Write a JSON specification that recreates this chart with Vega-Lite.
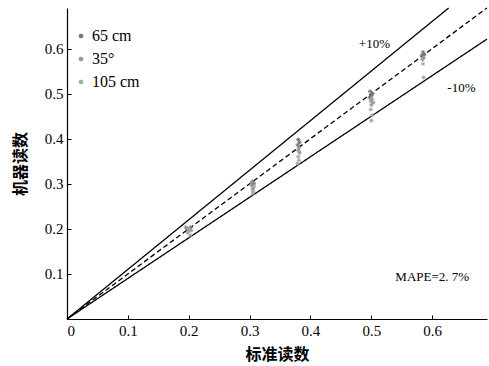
{
  "$schema": "https://vega.github.io/schema/vega-lite/v6.json",
  "width": 420,
  "height": 311,
  "autosize": {"type": "none"},
  "padding": {"left": 67, "top": 8, "right": 2, "bottom": 47},
  "background": "white",
  "config": {
    "view": {"stroke": null},
    "font": "Liberation Serif",
    "axis": {"grid": false, "domainColor": "black", "tickColor": "black", "labelColor": "black", "titleColor": "black", "labelFont": "Liberation Serif", "labelFontSize": 15, "titleFont": "Noto Sans CJK SC", "titleFontSize": 16, "titleFontWeight": "bold", "tickSize": -4, "labelPadding": 8, "domainWidth": 1.2}
  },
  "datasets": {
    "pts": [
      {"series": "65 cm", "std": 0.197, "machine": 0.201},
      {"series": "65 cm", "std": 0.200, "machine": 0.198},
      {"series": "65 cm", "std": 0.203, "machine": 0.203},
      {"series": "65 cm", "std": 0.199, "machine": 0.195},
      {"series": "35°", "std": 0.195, "machine": 0.204},
      {"series": "35°", "std": 0.201, "machine": 0.200},
      {"series": "35°", "std": 0.204, "machine": 0.197},
      {"series": "105 cm", "std": 0.198, "machine": 0.192},
      {"series": "105 cm", "std": 0.202, "machine": 0.186},
      {"series": "105 cm", "std": 0.200, "machine": 0.199},
      {"series": "65 cm", "std": 0.305, "machine": 0.305},
      {"series": "65 cm", "std": 0.307, "machine": 0.300},
      {"series": "65 cm", "std": 0.304, "machine": 0.297},
      {"series": "35°", "std": 0.306, "machine": 0.292},
      {"series": "35°", "std": 0.305, "machine": 0.288},
      {"series": "35°", "std": 0.303, "machine": 0.302},
      {"series": "105 cm", "std": 0.306, "machine": 0.283},
      {"series": "105 cm", "std": 0.305, "machine": 0.279},
      {"series": "105 cm", "std": 0.307, "machine": 0.295},
      {"series": "65 cm", "std": 0.380, "machine": 0.398},
      {"series": "65 cm", "std": 0.382, "machine": 0.392},
      {"series": "65 cm", "std": 0.379, "machine": 0.386},
      {"series": "35°", "std": 0.381, "machine": 0.380},
      {"series": "35°", "std": 0.380, "machine": 0.374},
      {"series": "35°", "std": 0.382, "machine": 0.369},
      {"series": "105 cm", "std": 0.380, "machine": 0.360},
      {"series": "105 cm", "std": 0.381, "machine": 0.352},
      {"series": "105 cm", "std": 0.379, "machine": 0.345},
      {"series": "65 cm", "std": 0.498, "machine": 0.505},
      {"series": "65 cm", "std": 0.502, "machine": 0.500},
      {"series": "65 cm", "std": 0.500, "machine": 0.496},
      {"series": "65 cm", "std": 0.497, "machine": 0.492},
      {"series": "35°", "std": 0.501, "machine": 0.488},
      {"series": "35°", "std": 0.499, "machine": 0.484},
      {"series": "35°", "std": 0.503, "machine": 0.480},
      {"series": "35°", "std": 0.500, "machine": 0.475},
      {"series": "105 cm", "std": 0.499, "machine": 0.465},
      {"series": "105 cm", "std": 0.501, "machine": 0.452},
      {"series": "105 cm", "std": 0.500, "machine": 0.440},
      {"series": "65 cm", "std": 0.585, "machine": 0.592},
      {"series": "65 cm", "std": 0.587, "machine": 0.587},
      {"series": "65 cm", "std": 0.583, "machine": 0.585},
      {"series": "35°", "std": 0.586, "machine": 0.580},
      {"series": "35°", "std": 0.584, "machine": 0.576},
      {"series": "105 cm", "std": 0.585, "machine": 0.566},
      {"series": "105 cm", "std": 0.586, "machine": 0.536}
    ],
    "lines": [
      {"line": "plus", "std": 0, "machine": 0},
      {"line": "plus", "std": 0.627, "machine": 0.69},
      {"line": "equal", "std": 0, "machine": 0},
      {"line": "equal", "std": 0.69, "machine": 0.69},
      {"line": "minus", "std": 0, "machine": 0},
      {"line": "minus", "std": 0.69, "machine": 0.621}
    ],
    "labels": [
      {"text": "+10%", "std": 0.505, "machine": 0.611},
      {"text": "-10%", "std": 0.648, "machine": 0.513},
      {"text": "MAPE=2. 7%", "std": 0.60, "machine": 0.093}
    ]
  },
  "layer": [
    {
      "data": {"name": "lines"},
      "mark": {"type": "line", "color": "black", "strokeWidth": 1.3},
      "encoding": {
        "x": {"field": "std", "type": "quantitative", "scale": {"domain": [0, 0.69], "nice": false}, "axis": {"title": "标准读数", "values": [0, 0.1, 0.2, 0.3, 0.4, 0.5, 0.6], "format": "~g", "titlePadding": 8}},
        "y": {"field": "machine", "type": "quantitative", "scale": {"domain": [0, 0.69], "nice": false}, "axis": {"title": "机器读数", "values": [0.1, 0.2, 0.3, 0.4, 0.5, 0.6], "format": "~g", "titlePadding": 16}},
        "detail": {"field": "line"},
        "strokeDash": {"field": "line", "type": "nominal", "scale": {"domain": ["plus", "equal", "minus"], "range": [[1, 0], [5, 3], [1, 0]]}, "legend": null}
      }
    },
    {
      "data": {"name": "pts"},
      "mark": {"type": "point", "shape": "M-1,0L1,0M0,-1L0,1M-0.7,-0.7L0.7,0.7M-0.7,0.7L0.7,-0.7", "filled": false, "strokeWidth": 1, "size": 18, "opacity": 1},
      "encoding": {
        "x": {"field": "std", "type": "quantitative"},
        "y": {"field": "machine", "type": "quantitative"},
        "color": {"field": "series", "type": "nominal", "scale": {"domain": ["65 cm", "35°", "105 cm"], "range": ["#777777", "#999999", "#aaaaaa"]}, "legend": {"title": null, "orient": "none", "legendX": 6, "legendY": 20, "labelFont": "Liberation Serif", "labelFontSize": 16, "labelColor": "black", "symbolSize": 22, "rowPadding": 7, "labelOffset": 3}}
      }
    },
    {
      "data": {"name": "labels"},
      "mark": {"type": "text", "font": "Liberation Serif", "fontSize": 13, "color": "black"},
      "encoding": {
        "x": {"field": "std", "type": "quantitative"},
        "y": {"field": "machine", "type": "quantitative"},
        "text": {"field": "text"}
      }
    }
  ]
}
